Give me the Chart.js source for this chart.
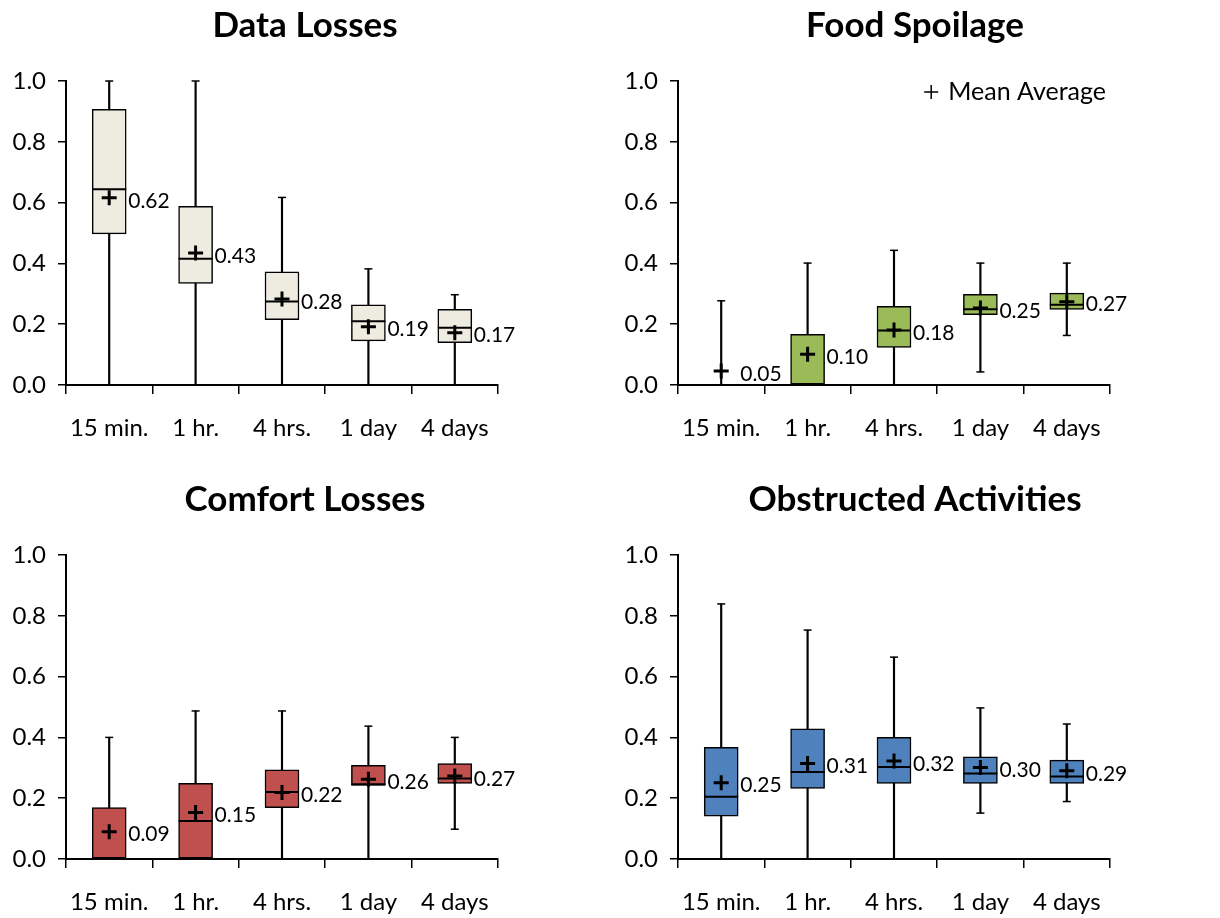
<!DOCTYPE html>
<html>
<head>
<meta charset="utf-8">
<script src="https://cdn.jsdelivr.net/npm/chart.js@4.4.1/dist/chart.umd.min.js"></script>
<style>
  html, body { margin: 0; padding: 0; background: #fff; }
  body { width: 1220px; height: 918px; position: relative; overflow: hidden; }
  .panel { position: absolute; width: 610px; height: 444px; }
</style>
</head>
<body>
<div class="panel" style="left:0;top:0"><canvas id="c1" width="610" height="444"></canvas></div>
<div class="panel" style="left:610px;top:0"><canvas id="c2" width="610" height="444"></canvas></div>
<div class="panel" style="left:0;top:474px"><canvas id="c3" width="610" height="444"></canvas></div>
<div class="panel" style="left:610px;top:474px"><canvas id="c4" width="610" height="444"></canvas></div>
<script>
// ---------- data ----------
const categories = ['15 min.', '1 hr.', '4 hrs.', '1 day', '4 days'];
const yTicks = [0, 0.2, 0.4, 0.6, 0.8, 1.0];

// Data Losses
const dlMin  = [0, 0, 0, 0, 0];
const dlQ1   = [0.497, 0.334, 0.215, 0.145, 0.139];
const dlMed  = [0.644, 0.415, 0.275, 0.210, 0.188];
const dlQ3   = [0.907, 0.588, 0.372, 0.264, 0.249];
const dlMax  = [1.0, 1.0, 0.617, 0.382, 0.297];
const dlMean = [0.616, 0.434, 0.283, 0.192, 0.172];

// Food Spoilage
const fsMin  = [0, 0, 0, 0.043, 0.163];
const fsQ1   = [0, 0, 0.124, 0.231, 0.249];
const fsMed  = [0, 0, 0.179, 0.249, 0.264];
const fsQ3   = [0, 0.167, 0.259, 0.298, 0.302];
const fsMax  = [0.277, 0.401, 0.443, 0.401, 0.401];
const fsMean = [0.046, 0.101, 0.181, 0.253, 0.274];

// Comfort Losses
const cfMin  = [0, 0, 0, 0, 0.098];
const cfQ1   = [0, 0, 0.169, 0.242, 0.249];
const cfMed  = [0, 0.125, 0.220, 0.246, 0.265];
const cfQ3   = [0.169, 0.249, 0.293, 0.308, 0.314];
const cfMax  = [0.400, 0.487, 0.487, 0.437, 0.400];
const cfMean = [0.090, 0.153, 0.219, 0.262, 0.273];

// Obstructed Activities
const obMin  = [0, 0, 0, 0.151, 0.189];
const obQ1   = [0.141, 0.232, 0.249, 0.249, 0.249];
const obMed  = [0.205, 0.286, 0.303, 0.281, 0.271];
const obQ3   = [0.367, 0.428, 0.400, 0.336, 0.325];
const obMax  = [0.839, 0.753, 0.664, 0.497, 0.444];
const obMean = [0.251, 0.314, 0.322, 0.301, 0.290];

const legendText = 'Mean Average';

// ---------- rendering ----------
const FONT = 'Lato, "Open Sans", sans-serif';
const BOX_W = 34;

const meanLabelPlugin = {
  id: 'meanLabels',
  afterDatasetsDraw(chart) {
    const ctx = chart.ctx;
    const idx = chart.data.datasets.findIndex(d => d.isMean);
    const meta = chart.getDatasetMeta(idx);
    ctx.save();
    ctx.font = '21px ' + FONT;
    ctx.fillStyle = '#000';
    ctx.textAlign = 'left';
    ctx.textBaseline = 'middle';
    meta.data.forEach((pt, i) => {
      const v = chart.data.datasets[idx].data[i];
      ctx.fillText(v.toFixed(2), pt.x + BOX_W / 2 + 2, pt.y + 3);
    });
    ctx.restore();
  }
};

const legendPlugin = {
  id: 'meanLegend',
  afterDraw(chart, args, opts) {
    if (!opts || !opts.show) return;
    const ctx = chart.ctx;
    const a = chart.chartArea;
    ctx.save();
    ctx.font = '25px ' + FONT;
    ctx.fillStyle = '#000';
    ctx.textAlign = 'right';
    ctx.textBaseline = 'middle';
    const xr = a.right - 4;
    const y = a.top + 11;
    ctx.fillText(legendText, xr, y);
    const w = ctx.measureText(legendText).width;
    const cx = xr - w - 17;
    ctx.strokeStyle = '#000';
    ctx.lineWidth = 1.5;
    ctx.beginPath();
    ctx.moveTo(cx - 7, y); ctx.lineTo(cx + 7, y);
    ctx.moveTo(cx, y - 7); ctx.lineTo(cx, y + 7);
    ctx.stroke();
    ctx.restore();
  }
};

function makeChart(id, title, mn, q1, med, q3, mx, mean, color, axisW, rightW, showLegend) {
  const ptLine = (data, r, bw, order) => ({
    type: 'line', data, showLine: false, pointStyle: 'line', pointRadius: r,
    pointHoverRadius: r, pointBorderWidth: bw, pointBorderColor: '#000',
    pointBackgroundColor: '#000', order, clip: false
  });
  new Chart(document.getElementById(id), {
    type: 'bar',
    data: {
      labels: categories,
      datasets: [
        { type: 'bar', data: mn.map((v, i) => [v, mx[i]]), backgroundColor: '#000',
          barThickness: 1.5, grouped: false, order: 6, borderWidth: 0 },
        ptLine(mx, 4, 1.5, 5),
        ptLine(mn, 4, 1.5, 5),
        { type: 'bar', data: q1.map((v, i) => (q3[i] > v ? [v, q3[i]] : null)),
          backgroundColor: color, borderColor: '#000', borderWidth: 1.5,
          borderSkipped: false, barThickness: BOX_W, grouped: false, order: 3 },
        ptLine(med, BOX_W / 2, 2, 2),
        { type: 'line', data: mean, isMean: true, showLine: false, pointStyle: 'cross',
          pointRadius: 7.5, pointHoverRadius: 7.5, pointBorderWidth: 3,
          pointBorderColor: '#000', order: 1, clip: false }
      ]
    },
    options: {
      responsive: false,
      animation: false,
      events: [],
      layout: { padding: 0 },
      plugins: {
        legend: { display: false },
        tooltip: { enabled: false },
        title: {
          display: true, text: title, color: '#000',
          font: { family: FONT, size: 35, weight: 'bold', lineHeight: 1.2 },
          padding: { top: 5, bottom: 34 }
        },
        meanLegend: { show: showLegend }
      },
      scales: {
        x: {
          afterFit: s => { s.height = 59; },
          ticks: { color: '#000', font: { family: FONT, size: 24 }, padding: 20, maxRotation: 0 },
          grid: { offset: true, drawOnChartArea: false, drawTicks: true, tickLength: 9,
                  color: '#000', lineWidth: 1.5 },
          border: { color: '#000', width: 2 }
        },
        y: {
          min: 0, max: 1,
          afterFit: s => { s.width = axisW; },
          afterBuildTicks: s => { s.ticks = yTicks.map(v => ({ value: v })); },
          ticks: { color: '#000', font: { family: FONT, size: 24 }, padding: 12,
                   callback: v => Number(v).toFixed(1) },
          grid: { drawOnChartArea: false, drawTicks: true, tickLength: 8,
                  color: '#000', lineWidth: 1.5 },
          border: { color: '#000', width: 2 }
        },
        yr: {
          position: 'right', display: true,
          afterFit: s => { s.width = rightW; },
          ticks: { display: false }, grid: { display: false }, border: { display: false }
        }
      }
    },
    plugins: [meanLabelPlugin, legendPlugin]
  });
}

makeChart('c1', 'Data Losses', dlMin, dlQ1, dlMed, dlQ3, dlMax, dlMean, '#EEECE1', 66, 112, false);
makeChart('c2', 'Food Spoilage', fsMin, fsQ1, fsMed, fsQ3, fsMax, fsMean, '#9BBB59', 68, 110, true);
makeChart('c3', 'Comfort Losses', cfMin, cfQ1, cfMed, cfQ3, cfMax, cfMean, '#C0504D', 66, 112, false);
makeChart('c4', 'Obstructed Activities', obMin, obQ1, obMed, obQ3, obMax, obMean, '#4F81BD', 68, 110, false);
</script>
</body>
</html>
